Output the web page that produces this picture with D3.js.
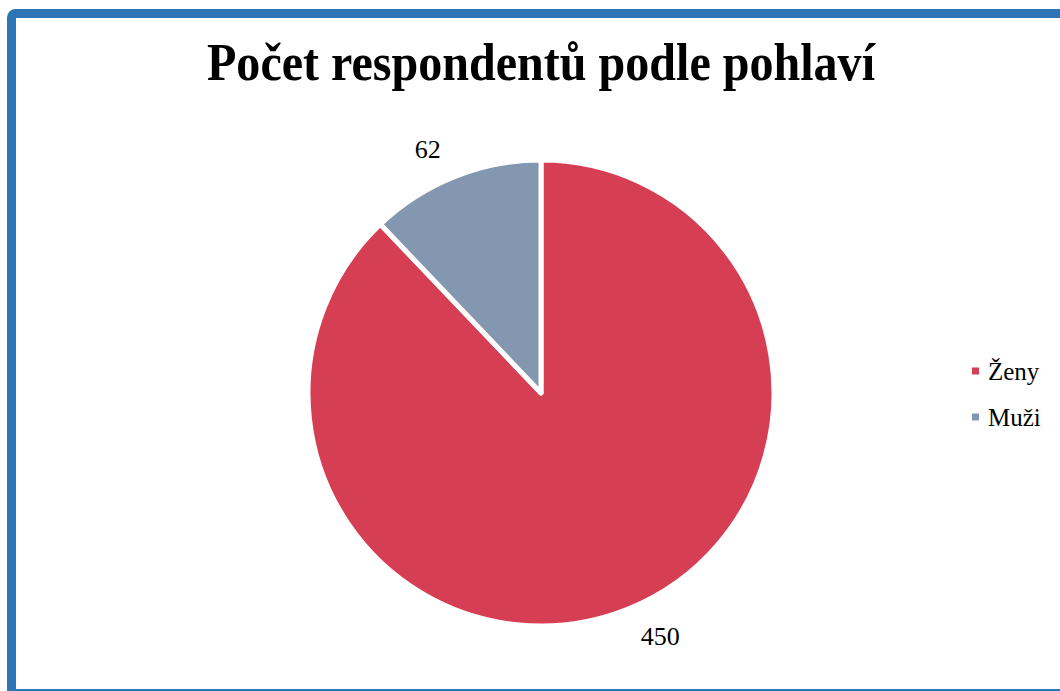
<!DOCTYPE html>
<html>
<head>
<meta charset="utf-8">
<script src="https://cdn.jsdelivr.net/npm/d3@7"></script>
<style>
  html, body { margin: 0; padding: 0; background: #fff; }
  svg { display: block; }
  svg text { font-family: "Liberation Serif", serif; }
</style>
</head>
<body>
<div id="chart"></div>
<script>
// Données du graphique
const titre = "Počet respondentů podle pohlaví"
const categories = ["Ženy", "Muži"]
const valeurs = [450, 62]
const couleurs = ["#D63E54", "#8497B0"]

const largeur = 1060
const hauteur = 691

const svg = d3.select("#chart")
   .append("svg")
   .attr("width", largeur)
   .attr("height", hauteur)

// Cadre bleu (coupé à droite et en bas comme dans l'original)
svg.append("rect")
   .attr("x", 11.5)
   .attr("y", 13.5)
   .attr("width", 1100)
   .attr("height", 680)
   .attr("rx", 4)
   .attr("fill", "#fff")
   .attr("stroke", "#2E75B6")
   .attr("stroke-width", 9)

// Titre
svg.append("text")
   .attr("x", 541)
   .attr("y", 80)
   .attr("text-anchor", "middle")
   .attr("font-weight", "bold")
   .attr("font-size", 52)
   .attr("textLength", 668)
   .attr("lengthAdjust", "spacingAndGlyphs")
   .text(titre)

// Camembert
const cx = 541, cy = 393, rayon = 233
const donnees = categories.map((c, i) => ({nom: c, valeur: valeurs[i], couleur: couleurs[i]}))

const pie = d3.pie().value(d => d.valeur).sort(null)
const arc = d3.arc().innerRadius(0).outerRadius(rayon)
const arcLabel = d3.arc().innerRadius(270).outerRadius(270)

const g = svg.append("g").attr("transform", `translate(${cx},${cy})`)
const parts = pie(donnees)

g.selectAll("path")
   .data(parts)
   .join("path")
   .attr("d", arc)
   .attr("fill", d => d.data.couleur)
   .attr("stroke", "#fff")
   .attr("stroke-width", 5)
   .attr("stroke-linejoin", "round")

// Étiquettes des valeurs (à l'extérieur)
g.selectAll("text.valeur")
   .data(parts)
   .join("text")
   .attr("class", "valeur")
   .attr("transform", d => {
      const [x, y] = arcLabel.centroid(d)
      // petit décalage pour ressembler au placement "meilleur ajustement"
      const dx = x < 0 ? -13 : 19
      const dy = y < 0 ? 7 : -7
      return `translate(${x + dx},${y + dy})`
   })
   .attr("text-anchor", "middle")
   .attr("dominant-baseline", "central")
   .attr("font-size", 26)
   .attr("fill", "#000")
   .text(d => d.data.valeur)

// Légende
const legende = svg.append("g").attr("transform", "translate(972,371)")
const items = legende.selectAll("g")
   .data(donnees)
   .join("g")
   .attr("transform", (d, i) => `translate(0,${i * 46})`)

items.append("rect")
   .attr("x", 0)
   .attr("y", -3.5)
   .attr("width", 7)
   .attr("height", 7)
   .attr("fill", d => d.couleur)

items.append("text")
   .attr("x", 16)
   .attr("y", 0)
   .attr("dominant-baseline", "central")
   .attr("font-size", 25)
   .attr("fill", "#000")
   .text(d => d.nom)
</script>
</body>
</html>
